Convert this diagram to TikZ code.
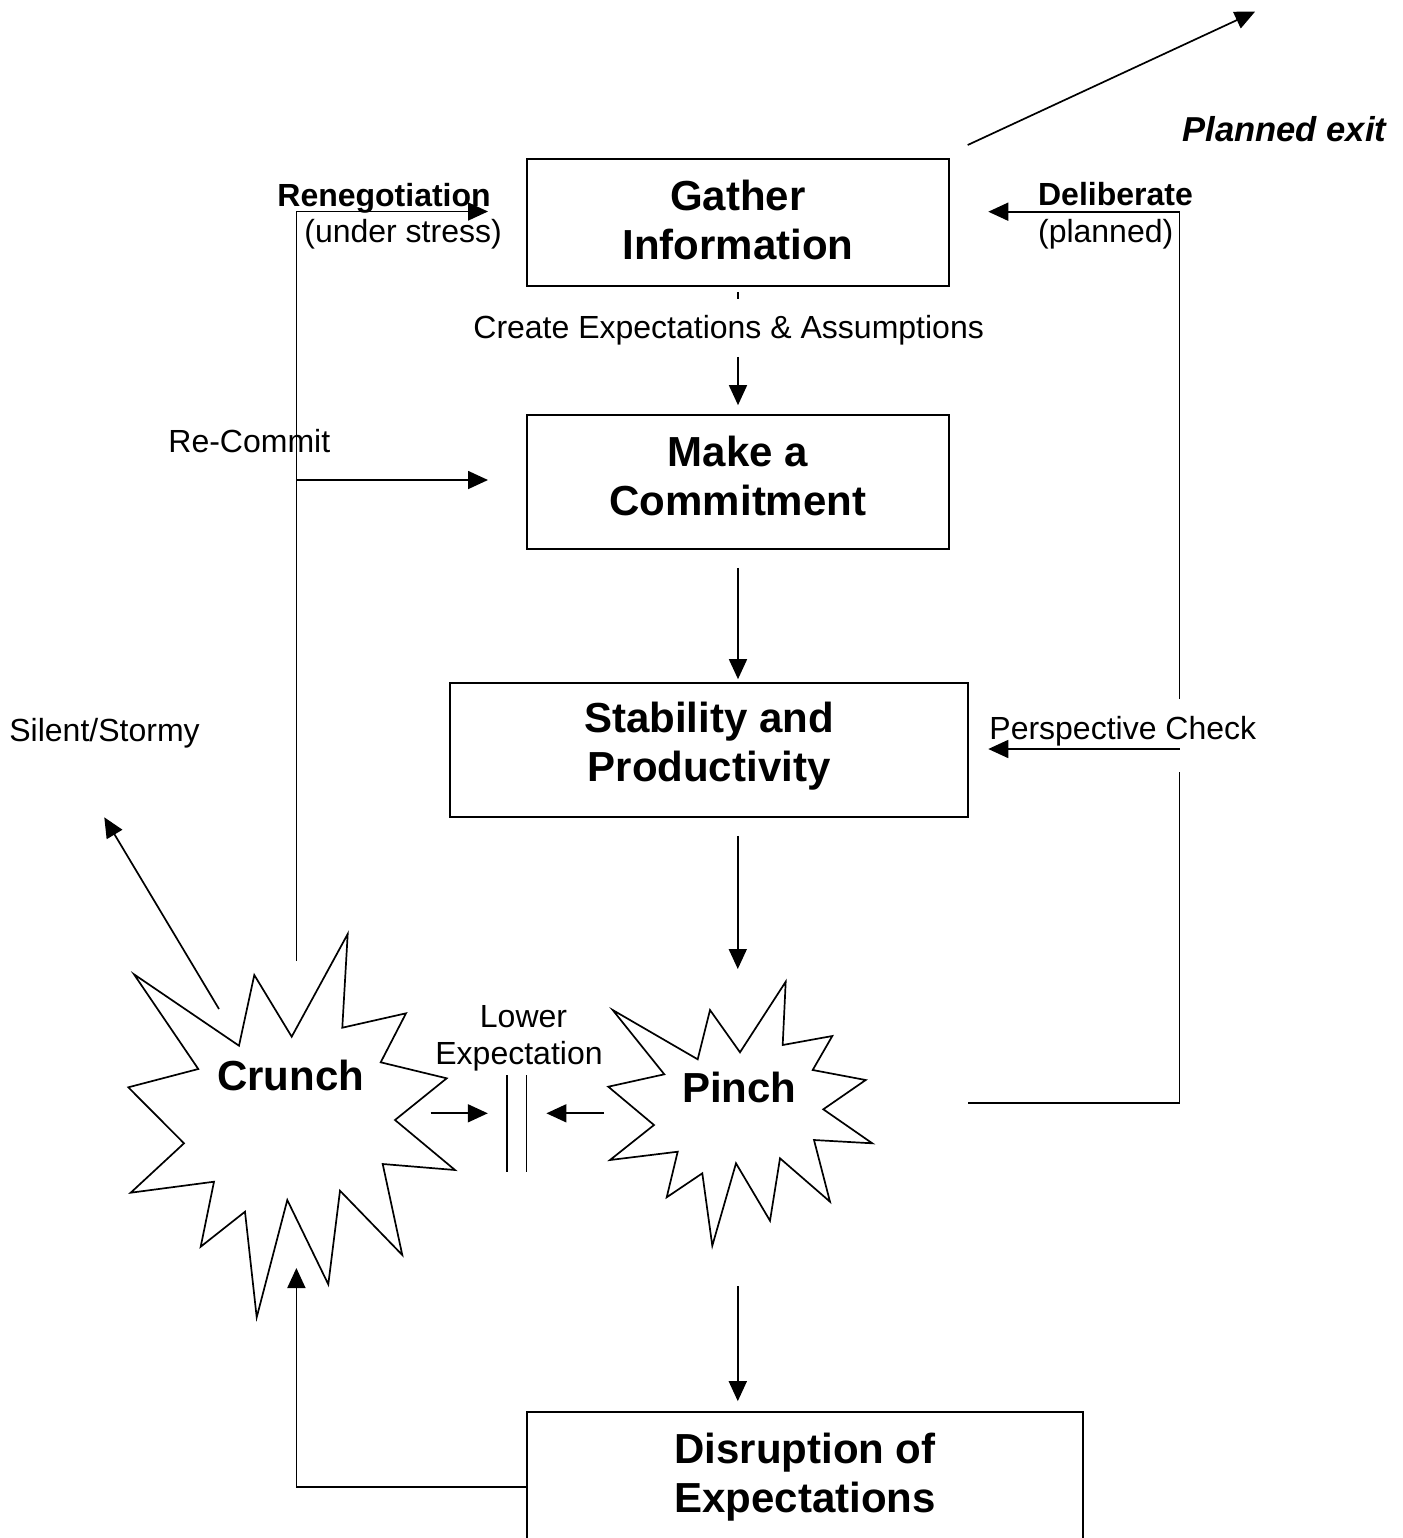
\documentclass[tikz,border=0pt]{standalone}
\usepackage{fontspec}
\setmainfont{Liberation Sans}
\usetikzlibrary{arrows.meta}
\newcommand\titlefnt{\fontsize{21pt}{24.5pt}\selectfont\bfseries}
\newcommand\labelfnt{\fontsize{16pt}{18.5pt}\selectfont}
\begin{document}
\begin{tikzpicture}[x=0.5pt,y=-0.5pt,
  lw/.style={line width=0.85pt},
  box/.style={draw,lw,inner sep=0pt,align=center,font=\titlefnt},
  lbl/.style={inner sep=0pt,font=\labelfnt,anchor=base west},
  arr/.style={lw,-{Triangle[length=10pt,width=9pt]}},
  starshape/.style={draw,lw,line join=miter},
]
\clip (0,0) rectangle (1403,1538);
\useasboundingbox (0,0) rectangle (1403,1538);

% boxes
\node[box,minimum width=211pt,minimum height=63.5pt,text depth=3pt] (gather) at (738,222.5) {Gather\\Information};
\node[box,minimum width=211pt,minimum height=67pt,text depth=6pt] (commit) at (738,482) {Make a\\Commitment};
\node[box,minimum width=259pt,minimum height=67pt,text depth=7.9pt] (stab) at (709,750) {Stability and\\Productivity};
\node[box,minimum width=278pt,minimum height=64pt,text depth=2.9pt] (disr) at (805,1476) {Disruption of\\Expectations};

% stars
\draw[starshape] (347.7,934) -- (342.3,1027.7) -- (406,1013.3) -- (380.7,1062.3) -- (446.7,1078.3)
  -- (395,1120) -- (455,1170) -- (382.7,1164) -- (402.3,1255) -- (340,1190.7) -- (328.3,1284.3)
  -- (287.3,1200) -- (256.7,1317.3) -- (245,1211.7) -- (200.7,1246.7) -- (214,1181.7)
  -- (130.7,1192.7) -- (184,1143.3) -- (128.3,1087.3) -- (198.3,1069) -- (134,974.3)
  -- (239,1045.7) -- (254.3,975) -- (291.7,1036.7) -- cycle;
\draw[starshape] (785.7,981.7) -- (740,1052.3) -- (710,1010) -- (697.7,1059.3) -- (612.7,1010)
  -- (664.3,1074.3) -- (608.3,1086.7) -- (654,1125) -- (610,1160) -- (677.7,1151.7)
  -- (666.7,1197.3) -- (702.3,1173.3) -- (712.3,1245.7) -- (736,1163.3) -- (770,1220.7)
  -- (780,1158.3) -- (830,1201.7) -- (814,1140) -- (872.3,1143.3) -- (823.3,1109.3)
  -- (865.7,1080) -- (812.7,1070) -- (832.3,1036) -- (782.7,1045) -- cycle;
\node[inner sep=0pt,font=\titlefnt,anchor=base west] (crunch) at (216.7,1090.7) {Crunch};
\node[inner sep=0pt,font=\titlefnt,anchor=base west] (pinch) at (681.7,1102.3) {Pinch};

% free connector ends
\coordinate (crunchout) at (296.4,961);
\coordinate (renegtip) at (488,211.5);
\coordinate (recommitfrom) at (296.4,480);
\coordinate (recommittip) at (488,480);
\coordinate (silentfrom) at (219,1009);
\coordinate (silenttip) at (104.3,817.3);
\coordinate (exitfrom) at (967.7,145);
\coordinate (exittip) at (1255,11.7);
\coordinate (pinchright) at (968,1103);
\coordinate (rtop) at (1179.5,699);
\coordinate (rmid) at (1179.5,749);
\coordinate (rlow) at (1179.5,772);
\coordinate (delibtip) at (988.3,211.7);
\coordinate (perstip) at (988.3,749);
\coordinate (pinchin) at (737.8,969);
\coordinate (pinchout) at (737.8,1286);
\coordinate (crunchin) at (296.4,1268);
\coordinate (lea) at (430.6,1113.3);
\coordinate (leb) at (487.8,1113.3);
\coordinate (lec) at (604.1,1113.3);
\coordinate (led) at (546.4,1113.3);
\coordinate (bar1t) at (507.1,1075);
\coordinate (bar1b) at (507.1,1171.7);
\coordinate (bar2t) at (526.5,1075);
\coordinate (bar2b) at (526.5,1171.7);

% connectors
\draw[lw] ([yshift=-2.5pt]gather.south) -- ([yshift=-6pt]gather.south);
\draw[arr,shorten >=4.5pt] ([yshift=-35pt]gather.south) -- (commit.north);
\draw[arr,shorten <=9pt,shorten >=1.5pt] (commit.south) -- (commit.south |- stab.north);
\draw[arr,shorten <=9pt] (stab.south -| pinchin) -- (pinchin);
\draw[arr,shorten >=5pt] (pinchout) -- (pinchout |- disr.north);
\draw[arr] ([yshift=-5.5pt]disr.west) -| (crunchin);
\draw[arr] (crunchout) |- (renegtip);
\draw[arr] (recommitfrom) -- (recommittip);
\draw[arr] (silentfrom) -- (silenttip);
\draw[arr] (exitfrom) -- (exittip);
\draw[lw] (pinchright) -| (rlow);
\draw[arr] (rmid) -- (perstip);
\draw[arr] (rtop) |- (delibtip);
\draw[arr] (lea) -- (leb);
\draw[arr] (lec) -- (led);
\draw[lw] (bar1t) -- (bar1b);
\draw[lw] (bar2t) -- (bar2b);

% labels
\node[lbl,font=\labelfnt\bfseries] (reneg) at (277,206) {Renegotiation};
\node[lbl] (stress) at (304,242) {(under stress)};
\node[lbl] (create) at (473,338) {Create Expectations \& Assumptions};
\node[lbl] (recommit) at (168,452) {Re-Commit};
\node[lbl] (silent) at (9,741) {Silent/Stormy};
\node[lbl,font=\labelfnt\bfseries] (delib) at (1037.7,205) {Deliberate};
\node[lbl] (planned) at (1037.7,242) {(planned)};
\node[lbl,font=\fontsize{17.3pt}{20pt}\selectfont\bfseries\itshape] (exit) at (1182,141.7) {Planned exit};
\node[lbl] (persp) at (989,739) {Perspective Check};
\node[lbl,anchor=base] (lower) at (523.5,1027) {Lower};
\node[lbl,anchor=base] (expect) at (519,1064) {Expectation};
\end{tikzpicture}
\end{document}
